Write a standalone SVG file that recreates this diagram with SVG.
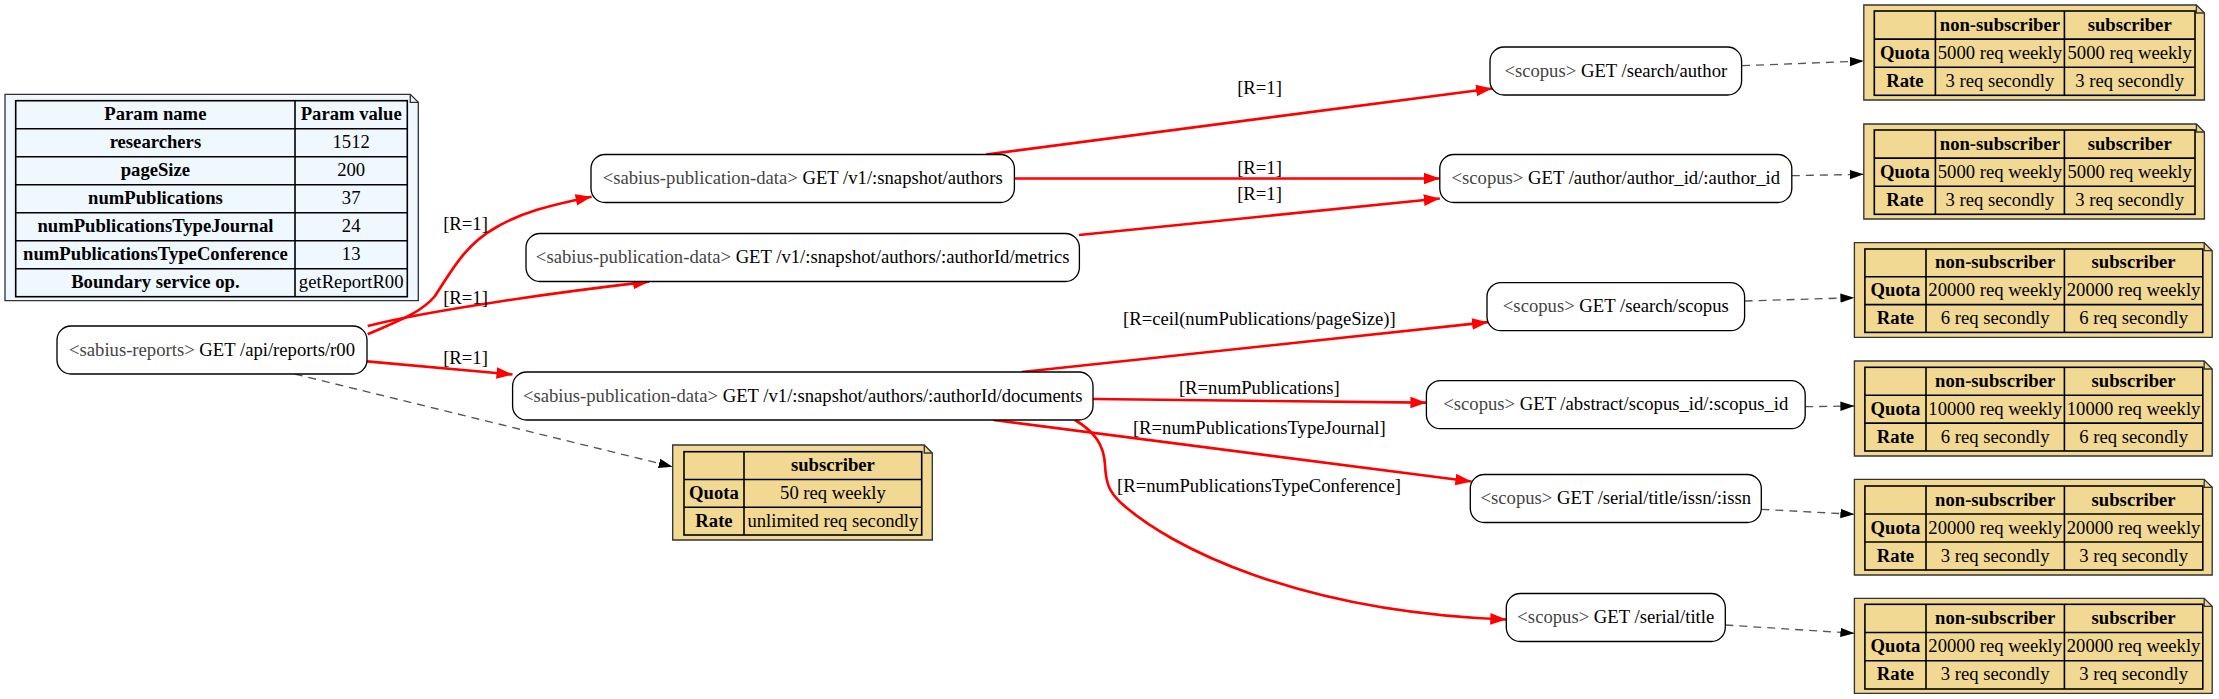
<svg xmlns="http://www.w3.org/2000/svg" width="2219" height="699" viewBox="0 0 2219 699">
<style>
text{font-family:"Liberation Serif","Times New Roman",serif;font-size:18.67px;fill:#000}
.m{text-anchor:middle}
.b{font-weight:bold}
.svc{fill:#444}
.node rect{fill:#fff;stroke:#000;stroke-width:1.33}
.e{fill:none;stroke:#f00;stroke-width:2.67}
.d{fill:none;stroke:#555;stroke-width:1.33;stroke-dasharray:8,6}
.note{fill:#f1d893;stroke:#333;stroke-width:1.33}
.pnote{fill:#f0f8ff;stroke:#333;stroke-width:1.33}
.fold{fill:none;stroke:#333;stroke-width:1.33}
.grid{fill:none;stroke:#000;stroke-width:1.6}
</style>
<defs>
<marker id="ar" markerUnits="userSpaceOnUse" markerWidth="20" markerHeight="14" viewBox="0 -7 20 14" refX="16" refY="0" orient="auto"><path d="M0,-5.8L16,0L0,5.8Z" fill="#f00"/></marker>
<marker id="ab" markerUnits="userSpaceOnUse" markerWidth="16" markerHeight="12" viewBox="0 -6 16 12" refX="14" refY="0" orient="auto"><path d="M0,-4.7L14,0L0,4.7Z" fill="#000"/></marker>
</defs>
<rect width="2219" height="699" fill="#fff"/>

<g id="params">
<path class="pnote" d="M5,94.3L410.3,94.3L418.3,102.3L418.3,300.7L5,300.7Z"/>
<path class="fold" d="M410.3,94.3L410.3,102.3L418.3,102.3"/>
<rect class="grid" x="15.7" y="100.7" width="391.6" height="196"/>
<path class="grid" d="M295,100.7V296.7M15.7,128.7H407.3M15.7,156.7H407.3M15.7,184.7H407.3M15.7,212.7H407.3M15.7,240.7H407.3M15.7,268.7H407.3"/>
<text class="m b" x="155.4" y="120.2">Param name</text>
<text class="m b" x="351.2" y="120.2">Param value</text>
<text class="m b" x="155.4" y="148.2">researchers</text>
<text class="m" x="351.2" y="148.2">1512</text>
<text class="m b" x="155.4" y="176.2">pageSize</text>
<text class="m" x="351.2" y="176.2">200</text>
<text class="m b" x="155.4" y="204.2">numPublications</text>
<text class="m" x="351.2" y="204.2">37</text>
<text class="m b" x="155.4" y="232.2">numPublicationsTypeJournal</text>
<text class="m" x="351.2" y="232.2">24</text>
<text class="m b" x="155.4" y="260.2">numPublicationsTypeConference</text>
<text class="m" x="351.2" y="260.2">13</text>
<text class="m b" x="155.4" y="288.2">Boundary service op.</text>
<text class="m" x="351.2" y="288.2">getReportR00</text>
</g>

<g id="connectors">
<path class="e" marker-end="url(#ar)" d="M367.7,334.3C395,322 420,314 435,296C452,270 465,245 495,228C520,213 550,205 591.6,196.7"/>
<path class="e" marker-end="url(#ar)" d="M367.7,326C430,310 560,292 649,281.7"/>
<path class="e" marker-end="url(#ar)" d="M367,361.3L512.5,374.5"/>
<path class="e" marker-end="url(#ar)" d="M986,154.5L1492,88.5"/>
<path class="e" marker-end="url(#ar)" d="M1014,178.5L1439.8,178.5"/>
<path class="e" marker-end="url(#ar)" d="M1079,235L1439.8,198.5"/>
<path class="e" marker-end="url(#ar)" d="M1021.7,372L1488,322.2"/>
<path class="e" marker-end="url(#ar)" d="M1093,399L1426.4,402.7"/>
<path class="e" marker-end="url(#ar)" d="M993.5,420L1471.4,481.5"/>
<path class="e" marker-end="url(#ar)" d="M1075,420C1095,432 1104,445 1105,465C1106,485 1110,492 1120,502C1170,548 1300,612 1506.3,619.5"/>
<path class="d" marker-end="url(#ab)" d="M294.7,374L672.7,466.7"/>
<path class="d" marker-end="url(#ab)" d="M1742,65.7L1863.8,61"/>
<path class="d" marker-end="url(#ab)" d="M1791.8,175.7L1863.8,174.3"/>
<path class="d" marker-end="url(#ab)" d="M1744.6,301L1854.4,297.7"/>
<path class="d" marker-end="url(#ab)" d="M1805.2,406.7L1854.4,406"/>
<path class="d" marker-end="url(#ab)" d="M1761.3,509.3L1854.4,514.3"/>
<path class="d" marker-end="url(#ab)" d="M1725.3,625L1854.4,633.3"/>
<text class="m" x="465.5" y="230.4">[R=1]</text>
<text class="m" x="465.5" y="303.8">[R=1]</text>
<text class="m" x="465.5" y="363.8">[R=1]</text>
<text class="m" x="1259.5" y="93.8">[R=1]</text>
<text class="m" x="1259.5" y="173.8">[R=1]</text>
<text class="m" x="1259.5" y="200.4">[R=1]</text>
<text class="m" x="1259.4" y="325.4">[R=ceil(numPublications/pageSize)]</text>
<text class="m" x="1259.3" y="393.8">[R=numPublications]</text>
<text class="m" x="1259.3" y="433.8">[R=numPublicationsTypeJournal]</text>
<text class="m" x="1259" y="492">[R=numPublicationsTypeConference]</text>
</g>

<g id="reports" class="node"><rect x="57" y="326" width="310" height="48" rx="14"/><text class="m" x="212" y="355.5"><tspan class="svc">&lt;sabius-reports&gt;</tspan> GET /api/reports/r00</text></g>
<g id="authors" class="node"><rect x="591" y="154.5" width="423.4" height="48" rx="14"/><text class="m" x="802.7" y="184"><tspan class="svc">&lt;sabius-publication-data&gt;</tspan> GET /v1/:snapshot/authors</text></g>
<g id="metrics" class="node"><rect x="526" y="233.5" width="553.4" height="48" rx="14"/><text class="m" x="802.7" y="263"><tspan class="svc">&lt;sabius-publication-data&gt;</tspan> GET /v1/:snapshot/authors/:authorId/metrics</text></g>
<g id="documents" class="node"><rect x="512.6" y="372" width="580.4" height="48" rx="14"/><text class="m" x="802.7" y="401.5"><tspan class="svc">&lt;sabius-publication-data&gt;</tspan> GET /v1/:snapshot/authors/:authorId/documents</text></g>
<g id="search_author" class="node"><rect x="1490" y="47" width="251.6" height="48" rx="14"/><text class="m" x="1615.8" y="76.5"><tspan class="svc">&lt;scopus&gt;</tspan> GET /search/author</text></g>
<g id="author_id" class="node"><rect x="1439.8" y="154.5" width="352" height="48" rx="14"/><text class="m" x="1615.8" y="184"><tspan class="svc">&lt;scopus&gt;</tspan> GET /author/author_id/:author_id</text></g>
<g id="search_scopus" class="node"><rect x="1487" y="282.7" width="257.6" height="48" rx="14"/><text class="m" x="1615.8" y="312.2"><tspan class="svc">&lt;scopus&gt;</tspan> GET /search/scopus</text></g>
<g id="abstract" class="node"><rect x="1426.4" y="380.7" width="378.8" height="48" rx="14"/><text class="m" x="1615.8" y="410.2"><tspan class="svc">&lt;scopus&gt;</tspan> GET /abstract/scopus_id/:scopus_id</text></g>
<g id="issn" class="node"><rect x="1470.3" y="474.5" width="291" height="48" rx="14"/><text class="m" x="1615.8" y="504"><tspan class="svc">&lt;scopus&gt;</tspan> GET /serial/title/issn/:issn</text></g>
<g id="serial_title" class="node"><rect x="1506.3" y="593.5" width="219" height="48" rx="14"/><text class="m" x="1615.8" y="623"><tspan class="svc">&lt;scopus&gt;</tspan> GET /serial/title</text></g>

<g id="note_reports">
<path class="note" d="M672.7,445L924.3,445L932.3,453L932.3,540L672.7,540Z"/>
<path class="fold" d="M924.3,445L924.3,453L932.3,453"/>
<rect class="grid" x="684" y="451.7" width="237.7" height="83.3"/>
<path class="grid" d="M744,451.7V535M684,479.5H921.7M684,507.3H921.7"/>
<text class="m b" x="832.9" y="471.1">subscriber</text>
<text class="m b" x="714" y="498.9">Quota</text>
<text class="m" x="832.9" y="498.9">50 req weekly</text>
<text class="m b" x="714" y="526.7">Rate</text>
<text class="m" x="832.9" y="526.7">unlimited req secondly</text>
</g>

<g id="note_search_author">
<path class="note" d="M1863.8,5L2196.4,5L2204.4,13L2204.4,100L1863.8,100Z"/>
<path class="fold" d="M2196.4,5L2196.4,13L2204.4,13"/>
<rect class="grid" x="1874.3" y="11" width="320.7" height="84.3"/>
<path class="grid" d="M1935.4,11V95.3M2064.4,11V95.3M1874.3,39.1H2195M1874.3,67.2H2195"/>
<text class="m b" x="1999.9" y="30.5">non-subscriber</text>
<text class="m b" x="2129.7" y="30.5">subscriber</text>
<text class="m b" x="1904.9" y="58.6">Quota</text>
<text class="m" x="1999.9" y="58.6">5000 req weekly</text>
<text class="m" x="2129.7" y="58.6">5000 req weekly</text>
<text class="m b" x="1904.9" y="86.7">Rate</text>
<text class="m" x="1999.9" y="86.7">3 req secondly</text>
<text class="m" x="2129.7" y="86.7">3 req secondly</text>
</g>

<g id="note_author_id">
<path class="note" d="M1863.8,124L2196.4,124L2204.4,132L2204.4,219L1863.8,219Z"/>
<path class="fold" d="M2196.4,124L2196.4,132L2204.4,132"/>
<rect class="grid" x="1874.3" y="130" width="320.7" height="84.3"/>
<path class="grid" d="M1935.4,130V214.3M2064.4,130V214.3M1874.3,158.1H2195M1874.3,186.2H2195"/>
<text class="m b" x="1999.9" y="149.5">non-subscriber</text>
<text class="m b" x="2129.7" y="149.5">subscriber</text>
<text class="m b" x="1904.9" y="177.6">Quota</text>
<text class="m" x="1999.9" y="177.6">5000 req weekly</text>
<text class="m" x="2129.7" y="177.6">5000 req weekly</text>
<text class="m b" x="1904.9" y="205.7">Rate</text>
<text class="m" x="1999.9" y="205.7">3 req secondly</text>
<text class="m" x="2129.7" y="205.7">3 req secondly</text>
</g>

<g id="note_search_scopus">
<path class="note" d="M1854.4,242.7L2204.2,242.7L2212.2,250.7L2212.2,337.3L1854.4,337.3Z"/>
<path class="fold" d="M2204.2,242.7L2204.2,250.7L2212.2,250.7"/>
<rect class="grid" x="1864.9" y="249" width="337.9" height="83.4"/>
<path class="grid" d="M1926,249V332.4M2064.4,249V332.4M1864.9,276.8H2202.8M1864.9,304.6H2202.8"/>
<text class="m b" x="1995.2" y="268.4">non-subscriber</text>
<text class="m b" x="2133.6" y="268.4">subscriber</text>
<text class="m b" x="1895.5" y="296.2">Quota</text>
<text class="m" x="1995.2" y="296.2">20000 req weekly</text>
<text class="m" x="2133.6" y="296.2">20000 req weekly</text>
<text class="m b" x="1895.5" y="324">Rate</text>
<text class="m" x="1995.2" y="324">6 req secondly</text>
<text class="m" x="2133.6" y="324">6 req secondly</text>
</g>

<g id="note_abstract">
<path class="note" d="M1854.4,361L2204.2,361L2212.2,369L2212.2,456L1854.4,456Z"/>
<path class="fold" d="M2204.2,361L2204.2,369L2212.2,369"/>
<rect class="grid" x="1864.9" y="367.3" width="337.9" height="83.7"/>
<path class="grid" d="M1926,367.3V451M2064.4,367.3V451M1864.9,395.2H2202.8M1864.9,423.1H2202.8"/>
<text class="m b" x="1995.2" y="386.7">non-subscriber</text>
<text class="m b" x="2133.6" y="386.7">subscriber</text>
<text class="m b" x="1895.5" y="414.6">Quota</text>
<text class="m" x="1995.2" y="414.6">10000 req weekly</text>
<text class="m" x="2133.6" y="414.6">10000 req weekly</text>
<text class="m b" x="1895.5" y="442.5">Rate</text>
<text class="m" x="1995.2" y="442.5">6 req secondly</text>
<text class="m" x="2133.6" y="442.5">6 req secondly</text>
</g>

<g id="note_issn">
<path class="note" d="M1854.4,479.3L2204.2,479.3L2212.2,487.3L2212.2,575L1854.4,575Z"/>
<path class="fold" d="M2204.2,479.3L2204.2,487.3L2212.2,487.3"/>
<rect class="grid" x="1864.9" y="486" width="337.9" height="84"/>
<path class="grid" d="M1926,486V570M2064.4,486V570M1864.9,514H2202.8M1864.9,542H2202.8"/>
<text class="m b" x="1995.2" y="505.5">non-subscriber</text>
<text class="m b" x="2133.6" y="505.5">subscriber</text>
<text class="m b" x="1895.5" y="533.5">Quota</text>
<text class="m" x="1995.2" y="533.5">20000 req weekly</text>
<text class="m" x="2133.6" y="533.5">20000 req weekly</text>
<text class="m b" x="1895.5" y="561.5">Rate</text>
<text class="m" x="1995.2" y="561.5">3 req secondly</text>
<text class="m" x="2133.6" y="561.5">3 req secondly</text>
</g>

<g id="note_serial_title">
<path class="note" d="M1854.4,598.3L2204.2,598.3L2212.2,606.3L2212.2,693.3L1854.4,693.3Z"/>
<path class="fold" d="M2204.2,598.3L2204.2,606.3L2212.2,606.3"/>
<rect class="grid" x="1864.9" y="604.3" width="337.9" height="84.7"/>
<path class="grid" d="M1926,604.3V689M2064.4,604.3V689M1864.9,632.5H2202.8M1864.9,660.7H2202.8"/>
<text class="m b" x="1995.2" y="623.9">non-subscriber</text>
<text class="m b" x="2133.6" y="623.9">subscriber</text>
<text class="m b" x="1895.5" y="652.1">Quota</text>
<text class="m" x="1995.2" y="652.1">20000 req weekly</text>
<text class="m" x="2133.6" y="652.1">20000 req weekly</text>
<text class="m b" x="1895.5" y="680.3">Rate</text>
<text class="m" x="1995.2" y="680.3">3 req secondly</text>
<text class="m" x="2133.6" y="680.3">3 req secondly</text>
</g>
</svg>
